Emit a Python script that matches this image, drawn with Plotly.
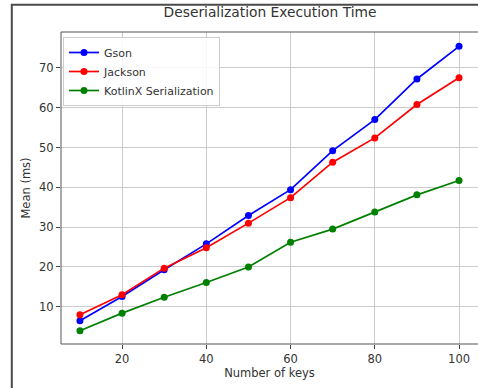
import plotly.graph_objects as go

keys = [10, 20, 30, 40, 50, 60, 70, 80, 90, 100]
gson = [6.5, 12.6, 19.3, 25.8, 32.9, 39.4, 49.2, 57.0, 67.2, 75.4]
jackson = [8.0, 13.0, 19.7, 24.8, 31.0, 37.4, 46.3, 52.4, 60.8, 67.5]
kotlinx = [4.0, 8.4, 12.4, 16.1, 20.0, 26.2, 29.5, 33.8, 38.1, 41.7]

series_names = ["Gson", "Jackson", "KotlinX Serialization"]
series_colors = ["#0000ff", "#ff0000", "#008000"]
x_ticks = [20, 40, 60, 80, 100]
y_ticks = [10, 20, 30, 40, 50, 60, 70]

FONT = "DejaVu Sans"

fig = go.Figure()
for name, vals, col in zip(series_names, [gson, jackson, kotlinx], series_colors):
    fig.add_trace(go.Scatter(
        x=keys, y=vals, name=name, mode="lines+markers",
        line=dict(color=col, width=1.7),
        marker=dict(color=col, size=7, symbol="circle"),
    ))

W, H = 478, 388
L, R, T, B = 61, 0, 32, 44
pw, ph = W - L - R, H - T - B

def px_x(px):
    return (px - L) / pw

def px_y(py):
    return (H - B - py) / ph

frame_col = "#4a4a4a"
spine_col = "#555555"
shapes = [
    dict(type="line", xref="paper", yref="paper",
         x0=px_x(11.8), x1=px_x(11.8), y0=px_y(4), y1=px_y(H),
         line=dict(color=frame_col, width=2)),
    dict(type="line", xref="paper", yref="paper",
         x0=px_x(11), x1=px_x(W), y0=px_y(4.8), y1=px_y(4.8),
         line=dict(color=frame_col, width=2)),
    dict(type="line", xref="paper", yref="paper", x0=0, x1=0, y0=0, y1=1,
         line=dict(color=spine_col, width=1)),
    dict(type="line", xref="paper", yref="paper", x0=0, x1=1, y0=0, y1=0,
         line=dict(color=spine_col, width=1)),
    dict(type="line", xref="paper", yref="paper", x0=0, x1=1, y0=1, y1=1,
         line=dict(color=spine_col, width=1)),
]

fig.update_layout(
    width=W, height=H,
    margin=dict(l=L, r=R, t=T, b=B, pad=0),
    paper_bgcolor="white", plot_bgcolor="white",
    font=dict(family=FONT, size=11.5, color="#333333"),
    title=dict(text="Deserialization Execution Time", x=270 / W, xanchor="center",
               y=1 - 12 / H, yanchor="middle",
               font=dict(family=FONT, size=13.8, color="#333333")),
    showlegend=True,
    legend=dict(x=px_x(63), y=px_y(37), xanchor="left", yanchor="top",
                bgcolor="rgba(255,255,255,0.85)", bordercolor="#cccccc", borderwidth=1,
                font=dict(family=FONT, size=11, color="#333333"),
                itemwidth=30, tracegroupgap=0),
    shapes=shapes,
)

fig.update_xaxes(
    range=[5.5, 104.5], tickmode="array", tickvals=x_ticks,
    ticks="outside", ticklen=4, tickcolor="#444444", tickwidth=1,
    showgrid=True, gridcolor="#cccccc", gridwidth=1,
    showline=False, zeroline=False,
    title=dict(text="Number of keys", font=dict(family=FONT, size=11.5, color="#333333"), standoff=4),
    tickfont=dict(family=FONT, size=11.5, color="#333333"),
)
fig.update_yaxes(
    range=[0.65, 79.0], tickmode="array", tickvals=y_ticks,
    ticks="outside", ticklen=4, tickcolor="#444444", tickwidth=1,
    showgrid=True, gridcolor="#cccccc", gridwidth=1,
    showline=False, zeroline=False,
    title=dict(text="Mean (ms)", font=dict(family=FONT, size=11.5, color="#333333"), standoff=6),
    tickfont=dict(family=FONT, size=11.5, color="#333333"),
)

fig.write_html(
    "out.html",
    config={"displayModeBar": False},
    post_script="document.body.style.margin='0';document.documentElement.style.overflow='hidden';document.body.style.overflow='hidden';",
)
